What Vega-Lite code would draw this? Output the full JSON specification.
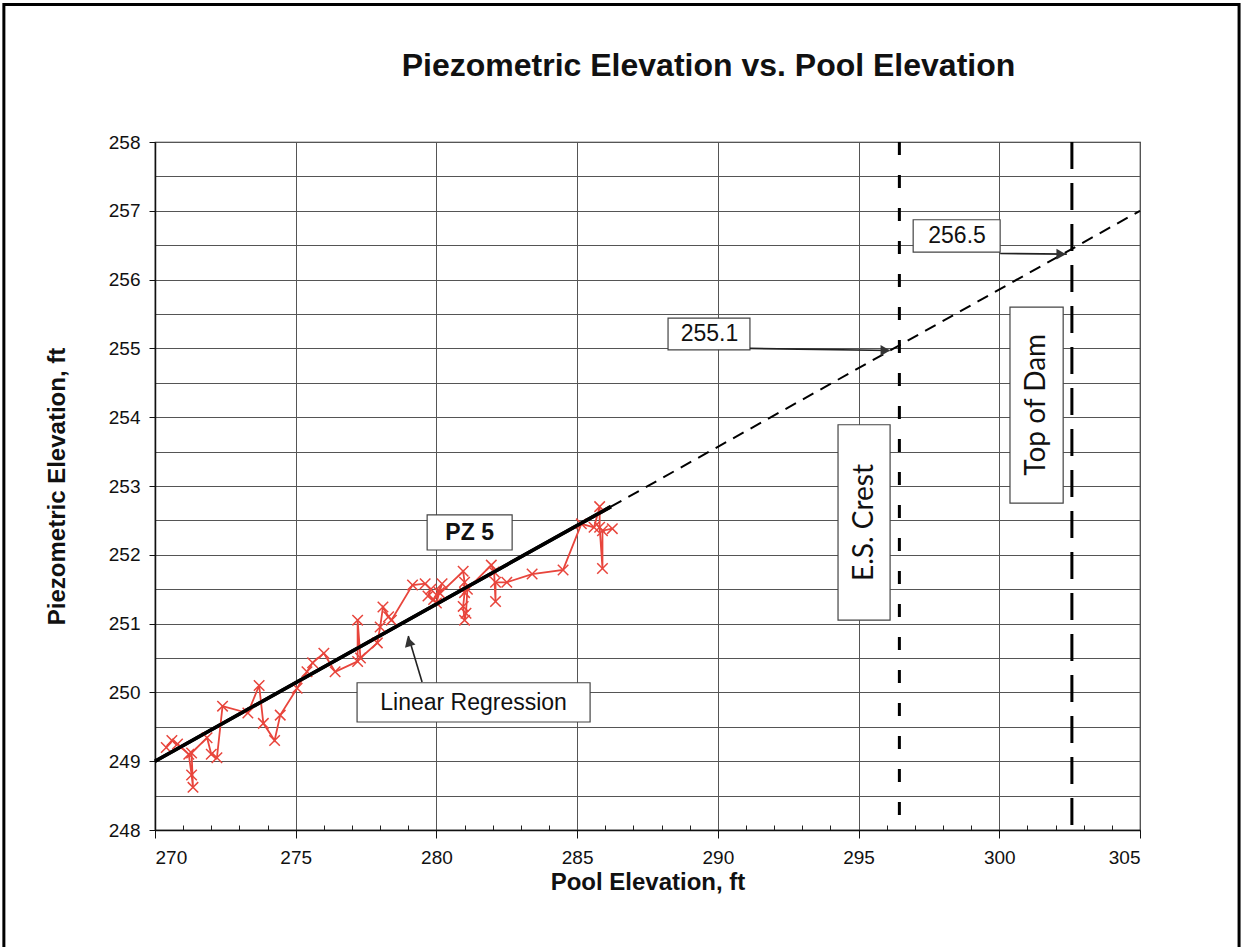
{
  "$schema": "https://vega.github.io/schema/vega-lite/v6.json",
  "width": 985,
  "height": 688,
  "autosize": "none",
  "padding": {"left": 155, "top": 142, "right": 103, "bottom": 117},
  "background": "white",
  "config": {
    "view": {"stroke": "#222", "strokeWidth": 1.2},
    "font": "Liberation Sans"
  },
  "title": {
    "text": "Piezometric Elevation vs. Pool Elevation",
    "font": "Liberation Sans",
    "fontSize": 32,
    "fontWeight": "bold",
    "color": "#111",
    "anchor": "middle",
    "dx": 61,
    "offset": -80
  },
  "datasets": {
    "pz5": [
      {"i": 1, "x": 270.4, "y": 249.2}, {"i": 2, "x": 270.6, "y": 249.3}, {"i": 3, "x": 270.8, "y": 249.25},
      {"i": 4, "x": 271.2, "y": 249.1}, {"i": 5, "x": 271.3, "y": 248.8}, {"i": 6, "x": 271.35, "y": 248.62},
      {"i": 7, "x": 271.3, "y": 249.12}, {"i": 8, "x": 271.85, "y": 249.34}, {"i": 9, "x": 272.0, "y": 249.1},
      {"i": 10, "x": 272.2, "y": 249.05}, {"i": 11, "x": 272.4, "y": 249.8}, {"i": 12, "x": 273.3, "y": 249.7},
      {"i": 13, "x": 273.7, "y": 250.1}, {"i": 14, "x": 273.85, "y": 249.55}, {"i": 15, "x": 274.25, "y": 249.3},
      {"i": 16, "x": 274.45, "y": 249.67}, {"i": 17, "x": 275.05, "y": 250.06}, {"i": 18, "x": 275.4, "y": 250.3},
      {"i": 19, "x": 275.6, "y": 250.43}, {"i": 20, "x": 276.0, "y": 250.57}, {"i": 21, "x": 276.4, "y": 250.3},
      {"i": 22, "x": 277.2, "y": 250.45}, {"i": 23, "x": 277.2, "y": 251.05}, {"i": 24, "x": 277.3, "y": 250.5},
      {"i": 25, "x": 277.9, "y": 250.72}, {"i": 26, "x": 278.0, "y": 250.95}, {"i": 27, "x": 278.1, "y": 251.24},
      {"i": 28, "x": 278.3, "y": 251.1}, {"i": 29, "x": 278.4, "y": 251.05}, {"i": 30, "x": 279.15, "y": 251.56},
      {"i": 31, "x": 279.6, "y": 251.58}, {"i": 32, "x": 279.8, "y": 251.5}, {"i": 33, "x": 279.7, "y": 251.4},
      {"i": 34, "x": 280.0, "y": 251.3}, {"i": 35, "x": 280.1, "y": 251.45}, {"i": 36, "x": 280.2, "y": 251.58},
      {"i": 37, "x": 279.9, "y": 251.35}, {"i": 38, "x": 280.95, "y": 251.76}, {"i": 39, "x": 281.0, "y": 251.6},
      {"i": 40, "x": 281.0, "y": 251.45}, {"i": 41, "x": 280.95, "y": 251.25}, {"i": 42, "x": 281.0, "y": 251.05},
      {"i": 43, "x": 281.05, "y": 251.15}, {"i": 44, "x": 281.1, "y": 251.5}, {"i": 45, "x": 281.95, "y": 251.85},
      {"i": 46, "x": 282.05, "y": 251.75}, {"i": 47, "x": 282.1, "y": 251.32}, {"i": 48, "x": 282.1, "y": 251.6},
      {"i": 49, "x": 282.5, "y": 251.6}, {"i": 50, "x": 283.4, "y": 251.72}, {"i": 51, "x": 284.5, "y": 251.78},
      {"i": 52, "x": 285.15, "y": 252.45}, {"i": 53, "x": 285.6, "y": 252.4}, {"i": 54, "x": 285.8, "y": 252.7},
      {"i": 55, "x": 285.8, "y": 252.4}, {"i": 56, "x": 285.9, "y": 251.8}, {"i": 57, "x": 285.9, "y": 252.35},
      {"i": 58, "x": 286.25, "y": 252.38}
    ],
    "regSolid": [{"x": 270, "y": 249.0}, {"x": 286.2, "y": 252.7}],
    "regDash": [{"x": 286.2, "y": 252.7}, {"x": 305, "y": 257.0}],
    "boxes": [
      {"label": "255.1", "x": 288.23, "x2": 291.14, "y": 255.44, "y2": 254.98},
      {"label": "256.5", "x": 296.94, "x2": 300.03, "y": 256.87, "y2": 256.4},
      {"label": "PZ 5", "x": 279.67, "x2": 282.69, "y": 252.58, "y2": 252.07},
      {"label": "Linear Regression", "x": 277.18, "x2": 285.46, "y": 250.14, "y2": 249.57},
      {"label": "E.S. Crest", "x": 294.27, "x2": 296.12, "y": 253.89, "y2": 251.05},
      {"label": "Top of Dam", "x": 300.38, "x2": 302.27, "y": 255.6, "y2": 252.75}
    ],
    "plainLabels": [
      {"label": "255.1", "x": 289.7, "y": 255.21},
      {"label": "256.5", "x": 298.5, "y": 256.63},
      {"label": "Linear Regression", "x": 281.32, "y": 249.85}
    ],
    "boldLabels": [{"label": "PZ 5", "x": 281.18, "y": 252.32}],
    "rotLabels": [
      {"label": "E.S. Crest", "x": 295.22, "y": 252.47},
      {"label": "Top of Dam", "x": 301.35, "y": 254.18}
    ],
    "arrows": [
      {"a": "a1", "x": 291.14, "y": 255.0},
      {"a": "a1", "x": 296.1, "y": 254.97},
      {"a": "a2", "x": 300.03, "y": 256.38},
      {"a": "a2", "x": 302.4, "y": 256.37},
      {"a": "a3", "x": 279.49, "y": 250.15},
      {"a": "a3", "x": 279.0, "y": 250.82}
    ],
    "headsRight": [{"x": 295.95, "y": 254.97}, {"x": 302.2, "y": 256.37}],
    "headsUp": [{"x": 279.02, "y": 250.74}],
    "frame": [{"x": 264.63, "x2": 308.52, "y": 260.0, "y2": 246.0}],
    "crest": [{"x": 296.45}],
    "dam": [{"x": 302.58}]
  },
  "resolve": {"axis": {"x": "independent", "y": "independent"}},
  "layer": [
    {
      "data": {"name": "frame"},
      "mark": {"type": "rect", "fill": null, "stroke": "#000", "strokeWidth": 3, "clip": false},
      "encoding": {
        "x": {"field": "x", "type": "quantitative", "scale": {"domain": [270, 305], "nice": false, "zero": false}, "axis": null},
        "x2": {"field": "x2"},
        "y": {"field": "y", "type": "quantitative", "scale": {"domain": [248, 258], "nice": false, "zero": false}, "axis": null},
        "y2": {"field": "y2"}
      }
    },
    {
      "data": {"name": "regSolid"},
      "mark": {"type": "line", "color": "#000", "strokeWidth": 3.5},
      "encoding": {
        "x": {"field": "x", "type": "quantitative", "scale": {"domain": [270, 305], "nice": false, "zero": false},
          "axis": {"orient": "bottom", "values": [271,272,273,274,276,277,278,279,281,282,283,284,286,287,288,289,291,292,293,294,296,297,298,299,301,302,303,304],
            "labels": false, "tickSize": -5, "tickColor": "#222", "domain": false, "grid": false, "title": null}},
        "y": {"field": "y", "type": "quantitative", "scale": {"domain": [248, 258], "nice": false, "zero": false},
          "axis": {"orient": "left", "values": [248,248.5,249,249.5,250,250.5,251,251.5,252,252.5,253,253.5,254,254.5,255,255.5,256,256.5,257,257.5,258],
            "labels": false, "ticks": false, "domain": false, "grid": true, "gridColor": "#555", "gridWidth": 1, "gridOpacity": 1, "title": null}}
      }
    },
    {
      "data": {"name": "pz5"},
      "mark": {"type": "line", "color": "#e8453c", "strokeWidth": 1.8},
      "encoding": {
        "x": {"field": "x", "type": "quantitative", "scale": {"domain": [270, 305], "nice": false, "zero": false},
          "axis": {"orient": "bottom", "values": [270,275,280,285,290,295,300,305], "grid": true, "gridColor": "#555", "gridWidth": 1, "gridOpacity": 1,
            "domainColor": "#111", "domainWidth": 1.5, "tickColor": "#111", "tickSize": 8, "labelFont": "Liberation Sans", "labelFontSize": 19, "labelColor": "#111", "labelPadding": 10,
            "title": "Pool Elevation, ft", "titleFont": "Liberation Sans", "titleFontSize": 24, "titleFontWeight": "bold", "titleColor": "#111", "titlePadding": 3}},
        "y": {"field": "y", "type": "quantitative", "scale": {"domain": [248, 258], "nice": false, "zero": false},
          "axis": {"orient": "left", "values": [248,249,250,251,252,253,254,255,256,257,258], "grid": false,
            "domainColor": "#111", "domainWidth": 1.5, "tickColor": "#111", "tickSize": 6, "labelFont": "Liberation Sans", "labelFontSize": 19, "labelColor": "#111", "labelPadding": 9,
            "title": "Piezometric Elevation, ft", "titleFont": "Liberation Sans", "titleFontSize": 24, "titleFontWeight": "bold", "titleColor": "#111", "titlePadding": 39}},
        "order": {"field": "i", "type": "quantitative"}
      }
    },
    {
      "data": {"name": "pz5"},
      "mark": {"type": "point", "shape": "M-1,-1L1,1M-1,1L1,-1", "filled": false, "stroke": "#e8453c", "strokeWidth": 1.5, "size": 110, "opacity": 1},
      "encoding": {
        "x": {"field": "x", "type": "quantitative", "scale": {"domain": [270, 305], "nice": false, "zero": false}, "axis": null},
        "y": {"field": "y", "type": "quantitative", "scale": {"domain": [248, 258], "nice": false, "zero": false}, "axis": null}
      }
    },
    {
      "data": {"name": "regSolid"},
      "mark": {"type": "line", "color": "#000", "strokeWidth": 3.5},
      "encoding": {
        "x": {"field": "x", "type": "quantitative", "scale": {"domain": [270, 305], "nice": false, "zero": false}, "axis": null},
        "y": {"field": "y", "type": "quantitative", "scale": {"domain": [248, 258], "nice": false, "zero": false}, "axis": null}
      }
    },
    {
      "data": {"name": "regDash"},
      "mark": {"type": "line", "color": "#000", "strokeWidth": 2, "strokeDash": [12, 8]},
      "encoding": {
        "x": {"field": "x", "type": "quantitative", "scale": {"domain": [270, 305], "nice": false, "zero": false}, "axis": null},
        "y": {"field": "y", "type": "quantitative", "scale": {"domain": [248, 258], "nice": false, "zero": false}, "axis": null}
      }
    },
    {
      "data": {"name": "crest"},
      "mark": {"type": "rule", "color": "#000", "strokeWidth": 3, "strokeDash": [13, 20]},
      "encoding": {
        "x": {"field": "x", "type": "quantitative", "scale": {"domain": [270, 305], "nice": false, "zero": false}, "axis": null}
      }
    },
    {
      "data": {"name": "dam"},
      "mark": {"type": "rule", "color": "#000", "strokeWidth": 3, "strokeDash": [27, 14]},
      "encoding": {
        "x": {"field": "x", "type": "quantitative", "scale": {"domain": [270, 305], "nice": false, "zero": false}, "axis": null}
      }
    },
    {
      "data": {"name": "boxes"},
      "mark": {"type": "rect", "fill": "white", "stroke": "#444", "strokeWidth": 1.2},
      "encoding": {
        "x": {"field": "x", "type": "quantitative", "scale": {"domain": [270, 305], "nice": false, "zero": false}, "axis": null},
        "x2": {"field": "x2"},
        "y": {"field": "y", "type": "quantitative", "scale": {"domain": [248, 258], "nice": false, "zero": false}, "axis": null},
        "y2": {"field": "y2"}
      }
    },
    {
      "data": {"name": "arrows"},
      "mark": {"type": "line", "color": "#222", "strokeWidth": 1.6},
      "encoding": {
        "x": {"field": "x", "type": "quantitative", "scale": {"domain": [270, 305], "nice": false, "zero": false}, "axis": null},
        "y": {"field": "y", "type": "quantitative", "scale": {"domain": [248, 258], "nice": false, "zero": false}, "axis": null},
        "detail": {"field": "a", "type": "nominal"}
      }
    },
    {
      "data": {"name": "headsRight"},
      "mark": {"type": "point", "shape": "triangle-right", "filled": true, "color": "#333", "size": 120, "opacity": 1},
      "encoding": {
        "x": {"field": "x", "type": "quantitative", "scale": {"domain": [270, 305], "nice": false, "zero": false}, "axis": null},
        "y": {"field": "y", "type": "quantitative", "scale": {"domain": [248, 258], "nice": false, "zero": false}, "axis": null}
      }
    },
    {
      "data": {"name": "headsUp"},
      "mark": {"type": "point", "shape": "triangle-up", "filled": true, "color": "#333", "size": 120, "angle": -17, "opacity": 1},
      "encoding": {
        "x": {"field": "x", "type": "quantitative", "scale": {"domain": [270, 305], "nice": false, "zero": false}, "axis": null},
        "y": {"field": "y", "type": "quantitative", "scale": {"domain": [248, 258], "nice": false, "zero": false}, "axis": null}
      }
    },
    {
      "data": {"name": "plainLabels"},
      "mark": {"type": "text", "font": "Liberation Sans", "fontSize": 23, "color": "#111", "align": "center", "baseline": "middle"},
      "encoding": {
        "x": {"field": "x", "type": "quantitative", "scale": {"domain": [270, 305], "nice": false, "zero": false}, "axis": null},
        "y": {"field": "y", "type": "quantitative", "scale": {"domain": [248, 258], "nice": false, "zero": false}, "axis": null},
        "text": {"field": "label"}
      }
    },
    {
      "data": {"name": "boldLabels"},
      "mark": {"type": "text", "font": "Liberation Sans", "fontSize": 23, "fontWeight": "bold", "color": "#111", "align": "center", "baseline": "middle"},
      "encoding": {
        "x": {"field": "x", "type": "quantitative", "scale": {"domain": [270, 305], "nice": false, "zero": false}, "axis": null},
        "y": {"field": "y", "type": "quantitative", "scale": {"domain": [248, 258], "nice": false, "zero": false}, "axis": null},
        "text": {"field": "label"}
      }
    },
    {
      "data": {"name": "rotLabels"},
      "mark": {"type": "text", "font": "Lato", "fontSize": 28, "color": "#111", "align": "center", "baseline": "middle", "angle": 270},
      "encoding": {
        "x": {"field": "x", "type": "quantitative", "scale": {"domain": [270, 305], "nice": false, "zero": false}, "axis": null},
        "y": {"field": "y", "type": "quantitative", "scale": {"domain": [248, 258], "nice": false, "zero": false}, "axis": null},
        "text": {"field": "label"}
      }
    }
  ]
}
